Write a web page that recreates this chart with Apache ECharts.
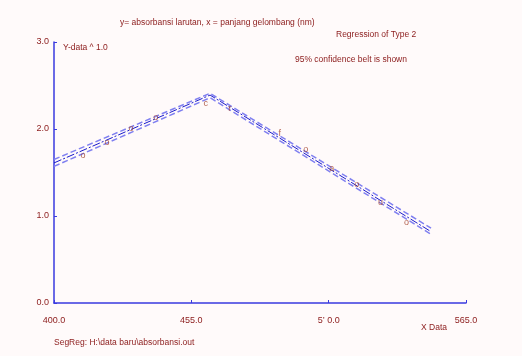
<!DOCTYPE html>
<html>
<head>
<meta charset="utf-8">
<script src="https://cdn.jsdelivr.net/npm/echarts@6/dist/echarts.min.js"></script>
<style>
  html, body { margin: 0; padding: 0; background: #fffafa; }
  #main { width: 522px; height: 356px; }
</style>
</head>
<body>
<div id="main"></div>
<script>
// segmented regression: break point near 462.5
var fitLine = [[400, 1.61], [462.5, 2.39], [551, 0.82]];
var upperBand = [[400, 1.65], [462.5, 2.41], [551, 0.86]];
var lowerBand = [[400, 1.57], [462.5, 2.36], [551, 0.79]];
var pointX = [411.6, 421.2, 430.8, 440.8, 460.8, 470.4, 490.4, 500.8, 511.2, 521.2, 530.8, 541.2];
var pointY = [1.70, 1.84, 2.00, 2.13, 2.29, 2.23, 1.95, 1.76, 1.55, 1.36, 1.16, 0.93];
var pointMark = ["o", "o", "o", "o", "c", "r", "f", "o", "a", "o", "u", "o"];
var xTicks = ["400.0", "455.0", "5\u2019 0.0", "565.0"];
var yTicks = ["0.0", "1.0", "2.0", "3.0"];

var textColor = "#8b1a1a";
var axisBlue = "#3a3adf";

var chart = echarts.init(document.getElementById("main"));

var points = pointX.map(function (x, i) { return [x, pointY[i], pointMark[i]]; });

var option = {
  backgroundColor: "#fffafa",
  animation: false,
  textStyle: { fontFamily: "Liberation Sans, Arial, sans-serif" },
  grid: { left: 54, right: 56, top: 42, bottom: 53 },
  graphic: [
    { type: "text", left: 120, top: 18, style: { text: "y= absorbansi larutan, x = panjang gelombang (nm)", fill: textColor, font: "8.5px Liberation Sans" } },
    { type: "text", left: 336, top: 30, style: { text: "Regression of Type 2", fill: textColor, font: "8.5px Liberation Sans" } },
    { type: "text", left: 295, top: 55, style: { text: "95% confidence belt is shown", fill: textColor, font: "8.5px Liberation Sans" } },
    { type: "text", left: 63, top: 43, style: { text: "Y-data ^ 1.0", fill: textColor, font: "8.5px Liberation Sans" } },
    { type: "text", left: 421, top: 323, style: { text: "X Data", fill: textColor, font: "8.5px Liberation Sans" } },
    { type: "text", left: 54, top: 338, style: { text: "SegReg: H:\\data baru\\absorbansi.out", fill: textColor, font: "8.5px Liberation Sans" } }
  ],
  xAxis: {
    type: "value",
    min: 400,
    max: 565,
    interval: 55,
    splitLine: { show: false },
    axisLine: { lineStyle: { color: axisBlue, width: 1.5 } },
    axisTick: { inside: true, length: 3, lineStyle: { color: axisBlue } },
    axisLabel: {
      color: textColor, fontSize: 9, margin: 13,
      formatter: function (v) { return xTicks[Math.round((v - 400) / 55)]; }
    }
  },
  yAxis: {
    type: "value",
    min: 0,
    max: 3,
    interval: 1,
    splitLine: { show: false },
    axisLine: { show: true, lineStyle: { color: axisBlue, width: 1.5 } },
    axisTick: { show: true, inside: true, length: 3, lineStyle: { color: axisBlue } },
    axisLabel: {
      color: textColor, fontSize: 9, margin: 5,
      formatter: function (v) { return yTicks[Math.round(v)]; }
    }
  },
  series: [
    {
      type: "line", data: upperBand, symbol: "none",
      lineStyle: { color: "#8080f0", width: 1.5, type: [6, 3] }
    },
    {
      type: "line", data: lowerBand, symbol: "none",
      lineStyle: { color: "#8080f0", width: 1.5, type: [6, 3] }
    },
    {
      type: "line", data: fitLine, symbol: "none",
      lineStyle: { color: "#1a1acc", width: 1, type: [8, 2, 2, 2] }
    },
    {
      type: "scatter", data: points, symbol: "circle", symbolSize: 2,
      itemStyle: { color: "rgba(0,0,0,0)" },
      z: 5,
      label: {
        show: true, position: "inside", color: "#a0402a", fontSize: 9,
        formatter: function (p) { return p.data[2]; }
      }
    }
  ]
};

chart.setOption(option);
</script>
</body>
</html>
